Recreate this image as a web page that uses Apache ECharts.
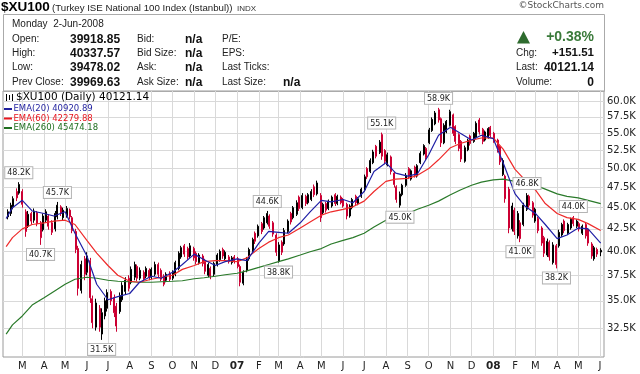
<!DOCTYPE html>
<html><head><meta charset="utf-8">
<script src="https://cdn.jsdelivr.net/npm/echarts@6/dist/echarts.min.js"></script>
<style>html,body{margin:0;padding:0;background:#fff}#c{width:640px;height:374px}</style>
</head><body><div id="c"></div>
<script>
// ---- DATA (price in thousands) ----
// one bar every 3rd trading day, first bar 8-Feb-2006, last bar 2-Jun-2008 ; [open, high, low, close]
const ohlc = [
[43.9,44.8,43.6,44.5],[44.3,45.6,44.0,45.3],[45.1,46.4,44.8,46.1],[47.0,47.4,45.8,46.2],[46.8,48.2,46.6,47.9],
[47.0,47.3,45.0,45.4],[44.5,44.8,41.6,42.2],[42.8,44.6,42.6,44.2],[44.3,44.5,43.0,43.4],[43.5,44.9,43.2,44.6],
[44.4,44.6,42.8,43.1],[43.2,43.4,40.7,41.5],[42.4,44.3,42.2,44.0],[43.5,44.8,43.2,44.5],[44.0,44.2,42.4,42.8],
[43.2,43.5,41.8,42.1],[42.5,44.6,42.2,44.3],[43.9,45.7,43.6,45.3],[45.1,45.3,44.0,44.3],[43.8,45.0,43.5,44.7],
[44.0,45.2,43.8,44.9],[44.7,44.9,43.6,43.9],[43.8,44.0,42.0,42.3],[42.2,42.5,39.8,40.2],[40.3,40.6,35.5,36.2],
[36.0,39.0,35.7,38.6],[39.2,39.5,37.0,37.6],[37.8,39.9,37.5,39.5],[39.0,39.3,34.8,35.3],[35.2,35.5,32.5,33.0],
[32.6,35.2,32.3,34.8],[34.3,34.6,32.2,32.6],[32.0,34.3,31.5,33.9],[33.6,35.3,33.3,35.0],[34.3,36.1,34.0,35.8],
[35.9,36.1,34.6,35.0],[35.3,35.6,33.5,33.9],[34.5,34.8,32.2,32.7],[34.0,35.8,33.8,35.5],[35.1,36.8,34.9,36.5],
[35.9,37.3,35.6,37.0],[37.2,37.5,35.9,36.2],[36.8,38.4,36.6,38.1],[37.3,38.9,37.0,38.6],[38.4,38.6,36.9,37.2],
[37.2,38.3,37.0,38.0],[37.8,38.0,36.9,37.1],[37.4,38.4,37.2,38.2],[38.0,38.2,37.0,37.3],[37.3,38.3,37.1,38.1],
[37.6,38.9,37.4,38.6],[38.6,38.8,37.3,37.6],[38.0,38.2,36.9,37.1],[37.4,37.6,36.4,36.6],[37.0,37.8,36.8,37.6],
[37.7,37.9,36.9,37.1],[37.2,38.0,37.0,37.8],[37.6,39.0,37.4,38.8],[38.2,40.0,38.0,39.8],[39.4,40.6,39.2,40.4],
[40.6,40.8,39.4,39.7],[40.3,40.5,39.1,39.4],[39.5,40.9,39.3,40.6],[40.3,40.5,39.0,39.3],[39.8,40.0,38.6,38.9],
[38.8,39.8,38.6,39.6],[39.5,39.7,38.4,38.7],[39.0,39.2,37.6,37.9],[37.5,38.8,37.3,38.6],[38.2,38.4,37.1,37.4],
[37.6,38.9,37.4,38.7],[38.6,39.8,38.4,39.6],[39.1,40.2,38.9,40.0],[40.2,40.4,39.2,39.5],[39.2,40.1,39.0,39.9],
[39.4,39.6,38.7,38.9],[38.8,39.5,38.6,39.3],[39.4,39.6,38.7,38.9],[39.2,39.4,38.2,38.4],[38.4,38.6,36.4,36.8],
[36.7,38.0,36.5,37.8],[38.0,39.4,37.8,39.2],[39.2,40.4,39.0,40.2],[40.0,41.5,39.8,41.3],[42.0,42.2,40.8,41.1],
[41.7,43.0,41.5,42.8],[43.1,43.3,41.9,42.2],[42.6,44.0,42.4,43.8],[43.2,44.6,43.0,44.3],[44.0,44.2,42.5,42.8],
[43.2,43.4,41.6,41.9],[41.8,42.0,39.5,39.9],[39.0,41.0,38.8,40.7],[41.0,41.2,39.6,39.9],[40.8,42.6,40.6,42.3],
[42.2,43.6,42.0,43.4],[44.3,44.5,43.0,43.3],[43.8,45.2,43.6,45.0],[44.2,45.9,44.0,45.6],[46.3,46.5,44.6,44.9],
[45.0,46.8,44.8,46.5],[46.4,46.6,45.2,45.5],[45.6,46.8,45.4,46.6],[46.0,47.3,45.8,47.0],[47.6,47.9,46.3,46.6],
[46.7,48.4,46.5,48.1],[46.5,46.8,43.3,43.8],[44.4,45.6,44.2,45.4],[45.5,45.7,44.4,44.7],[44.9,46.0,44.7,45.8],
[45.2,46.5,45.0,46.3],[46.6,46.8,45.2,45.5],[45.5,46.6,45.3,46.4],[46.3,46.5,45.4,45.6],[46.0,46.2,45.0,45.2],
[45.4,45.6,43.6,44.0],[44.0,45.4,43.8,45.2],[45.0,46.2,44.8,46.0],[46.4,46.6,45.3,45.6],[45.5,46.3,45.3,46.1],
[46.4,47.5,46.2,47.3],[47.2,49.2,47.0,48.9],[50.0,50.2,48.6,48.9],[49.6,51.4,49.4,51.1],[50.8,52.6,50.6,52.3],
[53.1,53.3,51.4,51.7],[52.2,54.0,52.0,53.7],[54.8,55.1,51.2,51.7],[52.5,52.7,50.6,51.0],[50.5,52.2,50.3,51.9],
[51.6,51.8,49.2,49.6],[49.4,49.6,47.5,47.9],[47.6,47.8,45.6,46.0],[45.3,47.0,45.0,46.7],[46.6,48.0,46.4,47.8],
[47.8,49.4,47.6,49.1],[50.0,50.2,48.6,48.9],[48.6,49.9,48.4,49.7],[50.2,50.4,48.8,49.1],[49.0,50.6,48.8,50.4],
[50.8,52.4,50.6,52.1],[52.0,53.4,51.8,53.2],[52.8,53.0,51.2,51.5],[53.6,55.8,53.4,55.5],[55.4,57.4,55.2,57.1],
[56.4,58.4,56.2,58.1],[58.6,58.9,56.6,57.0],[57.2,57.4,53.0,53.6],[53.6,56.5,53.4,56.2],[55.2,57.0,55.0,56.8],
[56.2,58.6,56.0,58.3],[57.8,58.0,54.6,55.0],[56.0,56.2,53.4,53.8],[54.8,55.0,52.4,52.8],[53.8,54.0,50.9,51.3],
[51.0,53.2,50.8,52.9],[52.6,54.2,52.4,54.0],[54.6,54.8,53.2,53.5],[53.8,55.2,53.6,55.0],[54.4,56.8,54.2,56.5],
[57.0,57.3,54.8,55.2],[55.6,55.8,53.4,53.8],[54.0,55.4,53.8,55.2],[54.4,55.9,54.2,55.7],[55.9,56.1,54.4,54.7],
[55.0,55.2,53.6,53.9],[54.0,54.2,52.2,52.6],[53.0,53.2,50.5,50.9],[49.2,51.4,49.0,51.1],[49.0,49.2,45.6,46.1],
[47.3,47.6,42.0,42.6],[42.5,45.6,42.2,45.2],[44.7,45.0,41.8,42.2],[41.7,44.6,41.4,44.3],[43.2,43.5,41.0,41.4],
[43.0,45.6,42.8,45.3],[44.8,46.8,44.6,46.5],[46.4,46.6,45.0,45.3],[45.6,45.8,43.8,44.1],[43.4,45.0,43.2,44.8],
[43.7,43.9,42.0,42.3],[42.6,42.8,40.6,40.9],[41.5,41.7,39.4,39.8],[39.6,41.4,39.4,41.1],[41.0,41.2,39.0,39.4],
[38.8,41.0,38.6,40.7],[40.6,40.8,38.2,38.6],[40.6,42.4,40.4,42.1],[41.8,43.2,41.6,43.0],[43.4,43.6,42.0,42.3],
[42.0,43.2,41.8,43.0],[42.6,43.8,42.4,43.6],[43.8,44.0,42.8,43.1],[42.8,43.6,42.6,43.4],[43.1,43.3,42.2,42.5],
[42.0,43.0,41.8,42.8],[43.0,43.2,41.4,41.7],[42.4,42.6,40.6,40.9],[40.8,41.0,39.2,39.5],[39.2,40.6,39.0,40.4],
[40.2,40.4,39.4,39.7],[39.92,40.34,39.48,40.12]
];
// EMA readings on 6-Feb-06, 15-Feb-06, then 1st & 15th of each month Mar-06..May-08, then 2-Jun-08
const ema20 = [43.7,45.0,45.9,44.6,44.3,44.0,44.5,42.0,39.5,36.6,35.1,35.4,35.7,36.8,37.4,37.2,37.8,38.6,39.7,39.1,38.5,38.9,
 39.2,39.0,40.9,42.2,42.1,42.0,43.2,44.5,45.9,45.7,46.0,45.6,47.0,49.6,50.8,49.4,49.0,49.3,51.9,54.7,55.9,55.0,54.0,54.7,
 54.2,50.8,46.7,45.2,44.3,43.0,41.4,41.8,42.6,42.5,40.9];
const ema60 = [40.5,41.5,42.5,43.0,43.2,43.4,43.5,43.0,41.2,39.8,38.5,37.5,36.9,36.8,37.1,37.3,37.5,38.1,38.5,38.9,39.0,39.0,
 38.9,39.3,40.3,41.0,41.5,41.8,42.6,43.3,44.1,44.5,44.8,45.1,45.8,47.0,48.3,48.6,48.7,49.1,50.0,51.2,52.9,53.5,54.0,54.3,
 54.3,52.7,49.9,48.5,47.2,45.5,44.3,43.8,43.6,43.1,42.3];
const ema260 = [32.0,32.8,33.6,34.6,35.3,35.9,36.6,37.1,37.3,37.2,37.0,36.9,36.85,36.8,36.8,36.85,36.9,36.95,37.15,37.25,37.4,37.55,
 37.7,37.95,38.3,38.6,38.9,39.2,39.6,39.95,40.3,40.8,41.2,41.5,42.0,42.7,43.5,43.9,44.3,44.8,45.3,45.8,46.6,47.2,47.8,48.2,
 48.5,48.6,48.3,48.0,47.8,47.3,46.7,46.4,46.2,45.9,45.5];
const priceTicks = [32.5,35,37.5,40,42.5,45,47.5,50,52.5,55,57.5,60];
const monthLetters = ['J','F','M','A','M','J','J','A','S','O','N','D'];
// annotated extremes: [bar index, 'H' high / 'L' low]
const extremes = [[4,'H'],[11,'L'],[17,'H'],[32,'L'],[88,'H'],[92,'L'],[127,'H'],[133,'L'],[146,'H'],[174,'L'],[176,'H'],[186,'L'],[192,'H']];
const legendItems = [
  ['$XU100 (Daily) 40121.14', '#000000'],
  ['EMA(20) 40920.89', '#1f1f9e'],
  ['EMA(60) 42279.88', '#e8141c'],
  ['EMA(260) 45474.18', '#1e6e1e']
];
const quoteLabels = [['Open:','High:','Low:','Prev Close:'],['Bid:','Bid Size:','Ask:','Ask Size:'],['P/E:','EPS:','Last Ticks:','Last Size:']];
const quoteValues = ['39918.85','40337.57','39478.02','39969.63'];
const sideLabels = ['Chg:','Last:','Volume:'];
const sideValues = ['+151.51','40121.14','0'];

// ---- dates (UTC ms) ----
const DAY = 86400000;
const barDates = [];
{ let t = Date.UTC(2006,1,8);
  while (barDates.length < ohlc.length) { barDates.push(t); let s = 0;
    while (s < 3) { t += DAY; const d = new Date(t).getUTCDay(); if (d !== 0 && d !== 6) s++; } } }
const emaDates = [Date.UTC(2006,1,6), Date.UTC(2006,1,15)];
for (let y = 2006; y <= 2008; y++) for (let m = 0; m < 12; m++) {
  if (y === 2006 && m < 2) continue; if (y === 2008 && m > 4) break;
  emaDates.push(Date.UTC(y,m,1), Date.UTC(y,m,15)); }
emaDates.push(Date.UTC(2008,5,2));
const monthTicks = [];
for (let y = 2006; y <= 2008; y++) for (let m = 0; m < 12; m++) {
  if (y === 2006 && m < 2) continue; if (y === 2008 && m > 5) break; monthTicks.push(Date.UTC(y,m,1)); }

const yMin = 30.079, yMax = 61.64;
const lnTicks = priceTicks.map(Math.log);

const candle = ohlc.map((b,i) => [barDates[i], b[0], b[3], b[2], b[1]]);
const mk = (arr) => arr.map((v,i) => [emaDates[i], v]);

const F = '"Liberation Sans", Arial, sans-serif';
const V = '"DejaVu Sans", Verdana, sans-serif';
function txt(x, y, text, font, fill, align) {
  return { type:'text', x:x, y:y, z:100, silent:true, style:{ text:text, font:font, fill:fill||'#222',
    align:align||'left', verticalAlign:'middle', textAlign:align||'left', textVerticalAlign:'middle' } };
}
const g = [];
g.push(txt(1, 7, '$XU100', 'bold 13.5px ' + F, '#000'));
g.push(txt(52, 8, '(Turkey ISE National 100 Index (Istanbul))', '9.7px ' + F, '#222'));
g.push(txt(237, 8.5, 'INDX', '8px ' + F, '#333'));
g.push(txt(604, 6, '\u00a9StockCharts.com', '9px ' + V, '#555', 'right'));
g.push({ type:'rect', silent:true, shape:{x:3.5, y:14.5, width:601, height:77}, style:{fill:'none', stroke:'#aaaaaa', lineWidth:1} });
g.push(txt(12, 24, 'Monday  2-Jun-2008', '10px ' + F, '#222'));
const rowY = [39.3, 53.3, 67.7, 82.3];
const colX = [12, 137, 222];
quoteLabels.forEach((col, ci) => col.forEach((lab, ri) => g.push(txt(colX[ci], rowY[ri], lab, '10px ' + F, '#222'))));
quoteValues.forEach((v, ri) => g.push(txt(70, rowY[ri], v, 'bold 12px ' + F, '#111')));
rowY.forEach(y => g.push(txt(185, y, 'n/a', 'bold 12px ' + F, '#111')));
g.push(txt(283, rowY[3], 'n/a', 'bold 12px ' + F, '#111'));
g.push({ type:'polygon', silent:true, shape:{points:[[517,43.5],[523.5,31],[530,43.5]]}, style:{fill:'#2e6b2e'} });
g.push(txt(594, 37, '+0.38%', 'bold 14px ' + F, '#3a7a3a', 'right'));
sideLabels.forEach((lab, i) => {
  g.push(txt(516, rowY[i+1], lab, '10px ' + F, '#222'));
  g.push(txt(594, rowY[i+1], sideValues[i], (i === 0 ? 'bold 11.5px ' : 'bold 12px ') + F, '#111', 'right'));
});
// legend inside plot
const legY = [97.5, 109, 118.5, 128];
g.push({ type:'group', silent:true, z:100, children:[
  { type:'line', shape:{x1:6.5,y1:94,x2:6.5,y2:101}, style:{stroke:'#000', lineWidth:1} },
  { type:'line', shape:{x1:9.5,y1:95,x2:9.5,y2:100}, style:{stroke:'#000', lineWidth:1} },
  { type:'line', shape:{x1:12.5,y1:94,x2:12.5,y2:101}, style:{stroke:'#000', lineWidth:1} }
]});
g.push(txt(16, legY[0], legendItems[0][0], '10.5px ' + V, legendItems[0][1]));
for (let i = 1; i < 4; i++) {
  g.push({ type:'line', silent:true, z:100, shape:{x1:4, y1:legY[i], x2:12, y2:legY[i]}, style:{stroke:legendItems[i][1], lineWidth:2} });
  g.push(txt(13.5, legY[i], legendItems[i][0], '8.5px ' + V, legendItems[i][1]));
}

const chart = echarts.init(document.getElementById('c'), null, {renderer:'canvas'});
chart.setOption({
  animation:false,
  backgroundColor:'#ffffff',
  grid:{ left:3, right:36, top:91, bottom:17, show:true, borderColor:'#9a9a9a', borderWidth:1, containLabel:false, outerBoundsMode:'none' },
  xAxis:{ type:'value', min:Date.UTC(2006,1,1,12), max:Date.UTC(2008,5,6,17),
    axisLine:{show:false}, axisTick:{show:false, customValues:monthTicks},
    axisLabel:{ customValues:monthTicks, margin:4, fontSize:10, fontFamily:'DejaVu Sans', color:'#222',
      formatter:function(v){ const d = new Date(v); const m = d.getUTCMonth();
        return m === 0 ? '{b|' + String(d.getUTCFullYear()).slice(2) + '}' : monthLetters[m]; },
      rich:{ b:{ fontWeight:'bold', fontSize:10.5, fontFamily:'DejaVu Sans', color:'#222' } } },
    splitLine:{ show:true, lineStyle:{ color:'#d9d9d9', width:1 } } },
  yAxis:[
    { type:'log', logBase:10, min:yMin, max:yMax, show:false, splitLine:{show:false} },
    { type:'value', position:'right', min:Math.log(yMin), max:Math.log(yMax),
      axisLine:{show:false}, axisTick:{show:false, customValues:lnTicks},
      axisLabel:{ customValues:lnTicks, margin:3, fontSize:10, fontFamily:'DejaVu Sans', color:'#222',
        formatter:function(v){ return Math.exp(v).toFixed(1) + 'K'; } },
      splitLine:{ show:true, lineStyle:{ color:'#d9d9d9', width:1 } } }
  ],
  series:[
    { type:'candlestick', name:'$XU100', yAxisIndex:0, data:candle, encode:{x:0, y:[1,2,3,4]},
      barWidth:1.5, z:2,
      itemStyle:{ color:'#000000', color0:'#cc0033', borderColor:'#000000', borderColor0:'#cc0033', borderWidth:1 },
      markPoint:{ symbol:'circle', symbolSize:0, silent:true, z:10,
        label:{ show:true, formatter:'{b}', fontSize:8, fontFamily:'DejaVu Sans', color:'#222',
          backgroundColor:'#ffffff', borderColor:'#b4b4b4', borderWidth:1, padding:[2,2,1,2] },
        data: extremes.map(([i, t]) => { const v = t === 'H' ? ohlc[i][1] : ohlc[i][2];
          return { name: v.toFixed(1) + 'K', coord:[barDates[i], v],
            label:{ position: t === 'H' ? 'top' : 'bottom', distance: 4 } }; }) } },
    { type:'line', name:'EMA(260)', yAxisIndex:0, data:mk(ema260), symbol:'none', z:3, lineStyle:{ color:'#2a7a2a', width:1.2 }, itemStyle:{color:'#2a7a2a'} },
    { type:'line', name:'EMA(60)', yAxisIndex:0, data:mk(ema60), symbol:'none', z:3, lineStyle:{ color:'#ee2a2a', width:1.2 }, itemStyle:{color:'#ee2a2a'} },
    { type:'line', name:'EMA(20)', yAxisIndex:0, data:mk(ema20), symbol:'none', z:4, lineStyle:{ color:'#1f1fa6', width:1.2 }, itemStyle:{color:'#1f1fa6'} }
  ],
  graphic: g
});
</script></body></html>
